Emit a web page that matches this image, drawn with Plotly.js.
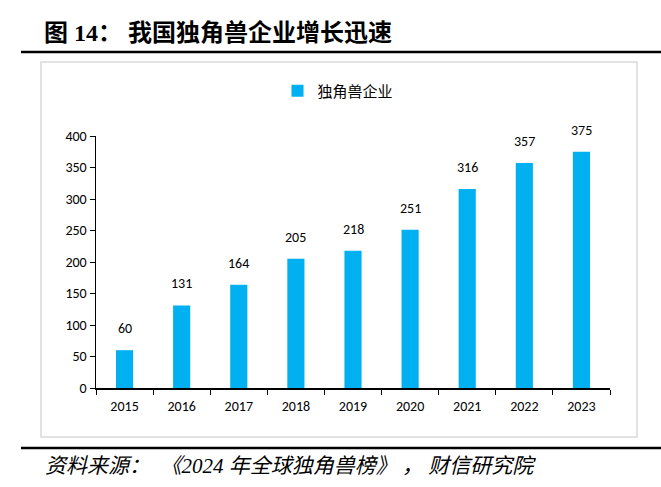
<!DOCTYPE html>
<html>
<head>
<meta charset="utf-8">
<script src="https://cdn.plot.ly/plotly-3.0.1.min.js"></script>
<style>html,body{margin:0;padding:0;background:#fff;}#chart{width:661px;height:487px;}</style>
</head>
<body>
<div id="chart"></div>
<script>
const years = ["2015","2016","2017","2018","2019","2020","2021","2022","2023"];
const unicorns = [60,131,164,205,218,251,316,357,375];
const seriesName = "独角兽企业";
const yTicks = [0,50,100,150,200,250,300,350,400];
const titleText = "图 14：&nbsp;我国独角兽企业增长迅速";
const sourceText = "资料来源：&nbsp;&nbsp;《2024 年全球独角兽榜》&nbsp;，&nbsp;财信研究院";

const W = 661, H = 487;
const L = 96, R = 610, T = 136, B = 388;
const px = x => (x - L) / (R - L);
const py = y => (B - y) / (B - T);
const numFont = {family: 'Carlito, Lato, Open Sans, sans-serif', size: 14, color: '#000'};

const trace = {
  type: 'bar',
  x: years,
  y: unicorns,
  name: seriesName,
  marker: {color: '#00B0F0'},
  width: 0.3,
  hoverinfo: 'skip'
};

// value labels placed above each bar, positioned by category index on the x axis
const labelAnns = years.map((yr, i) => ({
  x: i, y: unicorns[i], xref: 'x', yref: 'y',
  text: String(unicorns[i]), showarrow: false,
  yanchor: 'bottom', yshift: 11, font: numFont
}));

const layout = {
  width: W, height: H,
  margin: {l: L, r: W - R, t: T, b: H - B, pad: 0},
  paper_bgcolor: '#fff', plot_bgcolor: '#fff',
  showlegend: true,
  legend: {
    orientation: 'h', x: px(338), y: py(91), xanchor: 'center', yanchor: 'middle',
    font: {family: 'Noto Sans CJK SC, sans-serif', size: 15, color: '#000'},
    itemwidth: 30
  },
  bargap: 0.7,
  xaxis: {
    type: 'category',
    categoryarray: years, categoryorder: 'array',
    range: [-0.5, years.length - 0.5],
    showline: true, linecolor: '#000', linewidth: 1.5,
    ticks: 'outside', ticklen: 5, tickcolor: '#000', tickwidth: 1,
    tickson: 'boundaries', ticklabelstandoff: 5,
    tickfont: numFont,
    showgrid: false, zeroline: false, fixedrange: true
  },
  yaxis: {
    range: [0, 400],
    tickvals: yTicks,
    showline: true, linecolor: '#000', linewidth: 1.5,
    ticks: 'outside', ticklen: 5, tickcolor: '#000', tickwidth: 1,
    tickfont: numFont,
    showgrid: false, zeroline: false, fixedrange: true
  },
  shapes: [
    {type: 'line', xref: 'paper', yref: 'paper', x0: px(21), x1: px(661), y0: py(52), y1: py(52), line: {color: '#000', width: 2.5}},
    {type: 'rect', xref: 'paper', yref: 'paper', x0: px(41), x1: px(637), y0: py(62), y1: py(437), line: {color: '#d9d9d9', width: 1.5}},
    {type: 'line', xref: 'paper', yref: 'paper', x0: px(21), x1: px(661), y0: py(448), y1: py(448), line: {color: '#000', width: 2.5}}
  ],
  annotations: labelAnns.concat([
    {xref: 'paper', yref: 'paper', x: px(42), y: py(33), xanchor: 'left', yanchor: 'middle', showarrow: false,
     text: '<b>' + titleText + '</b>', font: {family: 'Liberation Serif, Noto Sans CJK SC, serif', size: 24, color: '#000'}},
    {xref: 'paper', yref: 'paper', x: px(43), y: py(466), xanchor: 'left', yanchor: 'middle', showarrow: false,
     text: '<i>' + sourceText + '</i>', font: {family: 'Liberation Serif, Noto Sans CJK SC, serif', size: 21, color: '#000'}}
  ])
};

Plotly.newPlot('chart', [trace], layout, {displayModeBar: false, staticPlot: true});
</script>
</body>
</html>
